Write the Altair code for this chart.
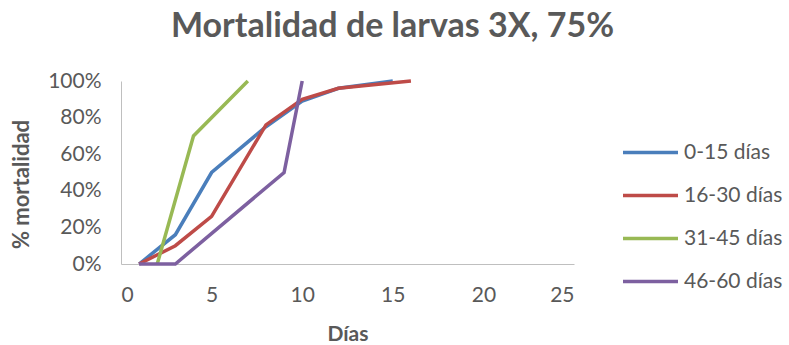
import altair as alt
import pandas as pd

# Larval mortality (%) by day, one series per age group
series_names = ["0-15 días", "16-30 días", "31-45 días", "46-60 días"]
series_colors = ["#4A7EBB", "#BE4B48", "#98B954", "#7D60A0"]

days_0_15 = [1, 3, 5, 8, 10, 12, 15]
mort_0_15 = [0, 16, 50, 75, 89, 96, 100]

days_16_30 = [1, 3, 5, 8, 10, 12, 16]
mort_16_30 = [0, 10, 26, 76, 90, 96, 100]

days_31_45 = [2, 4, 7]
mort_31_45 = [0, 70, 100]

days_46_60 = [1, 3, 9, 10]
mort_46_60 = [0, 0, 50, 100]

x_ticks = [0, 5, 10, 15, 20, 25]
y_ticks = [0, 0.2, 0.4, 0.6, 0.8, 1.0]

rows = []
for i, (name, xs, ys) in enumerate(zip(
        series_names,
        [days_0_15, days_16_30, days_31_45, days_46_60],
        [mort_0_15, mort_16_30, mort_31_45, mort_46_60])):
    for j, (x, y) in enumerate(zip(xs, ys)):
        rows.append({"serie": name, "dia": x, "mort": y / 100, "orden": i, "paso": j})
df = pd.DataFrame(rows)

FONT = "Lato"
GREY = "#595959"

chart = alt.Chart(df).mark_line(strokeWidth=3.5).encode(
    x=alt.X("dia:Q",
            scale=alt.Scale(domain=[0, 25], nice=False),
            axis=alt.Axis(values=x_ticks, title="Días", grid=False, ticks=False,
                          domainColor="#BFBFBF", domainWidth=1,
                          labelColor=GREY, labelFontSize=21, labelFont=FONT,
                          labelPadding=20,
                          titleColor=GREY, titleFontSize=21, titleFont=FONT,
                          titleFontWeight="bold", titlePadding=18)),
    y=alt.Y("mort:Q",
            scale=alt.Scale(domain=[0, 1], nice=False),
            axis=alt.Axis(values=y_ticks, format=".0%", title="% mortalidad",
                          grid=False, ticks=False,
                          domainColor="#BFBFBF", domainWidth=1,
                          labelColor=GREY, labelFontSize=21, labelFont=FONT,
                          labelPadding=20,
                          titleColor=GREY, titleFontSize=22, titleFont=FONT,
                          titleFontWeight="bold", titlePadding=14,
                          titleY=103)),
    color=alt.Color("serie:N",
                    scale=alt.Scale(domain=series_names, range=series_colors),
                    legend=alt.Legend(title=None, orient="none",
                                      legendX=500, legendY=42,
                                      symbolType="stroke", symbolSize=3025,
                                      symbolStrokeWidth=3.5,
                                      labelFontSize=21, labelFont=FONT,
                                      labelColor=GREY, labelOffset=4,
                                      rowPadding=3)),
    order=alt.Order("paso:Q"),
    detail="serie:N",
).properties(
    width=453,
    height=183,
    background="white",
    title=alt.TitleParams("Mortalidad de larvas 3X, 75%", font=FONT,
                          fontSize=34, fontWeight="bold", color=GREY,
                          anchor="middle", dx=45, offset=26),
    padding={"left": 121, "top": 81, "right": 215, "bottom": 81},
    autosize=alt.AutoSizeParams(type="none"),
).configure_view(stroke=None)

chart.save("out.html", embed_options={"renderer": "svg", "actions": False})
